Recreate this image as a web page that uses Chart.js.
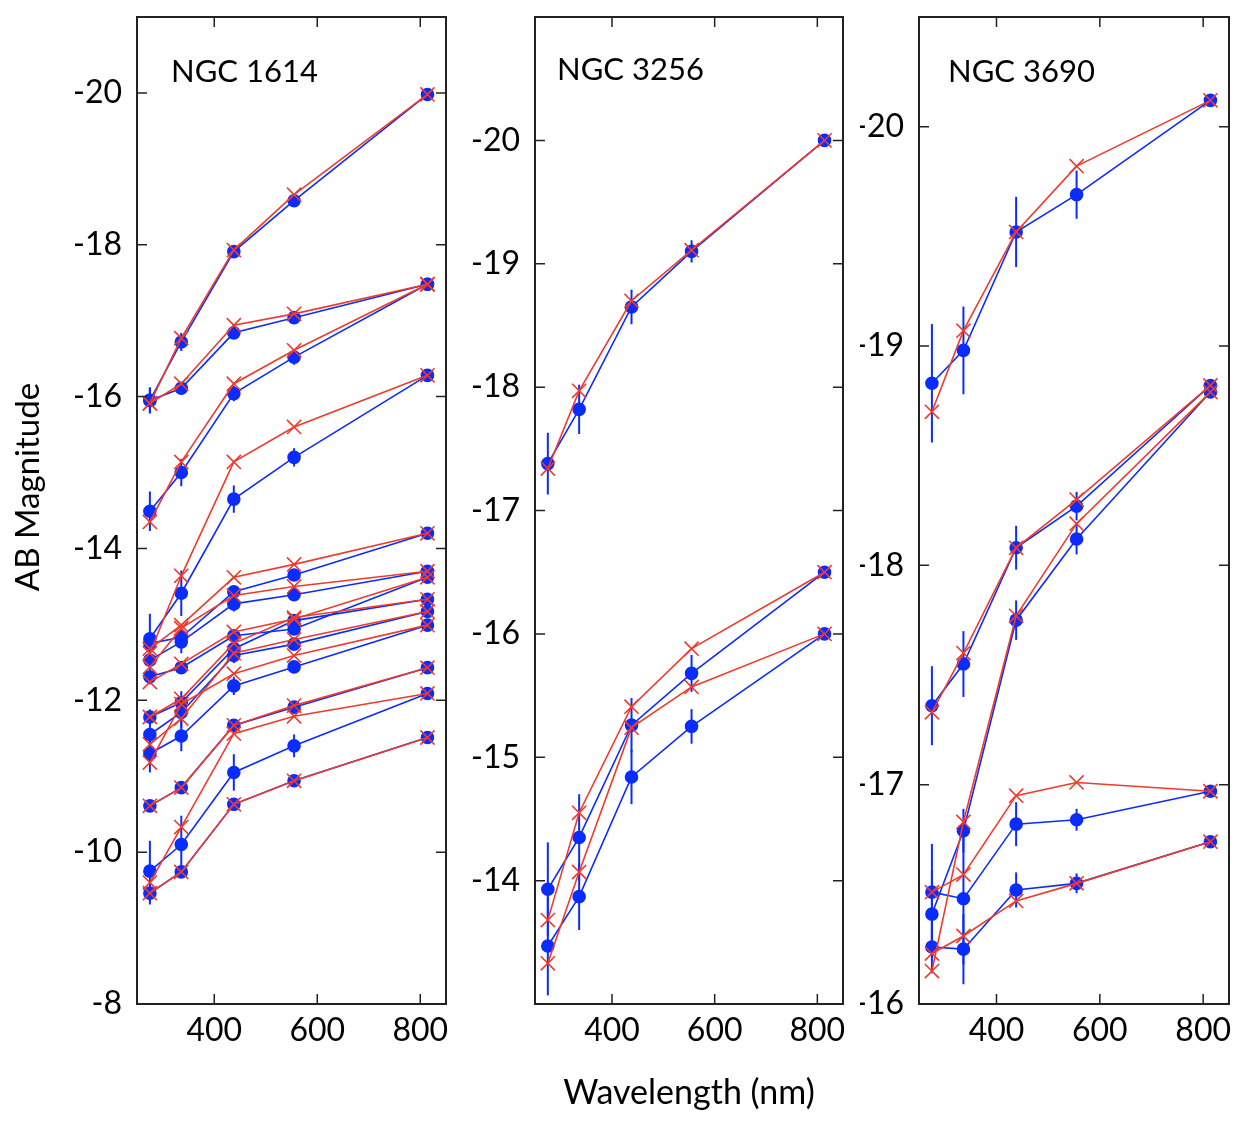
<!DOCTYPE html>
<html>
<head>
<meta charset="utf-8">
<script src="https://cdn.jsdelivr.net/npm/chart.js@4.4.0/dist/chart.umd.min.js"></script>
<style>
  body { margin: 0; background: #fff; }
  #wrap { position: relative; width: 1258px; height: 1126px; overflow: hidden; }
  #wrap canvas { position: absolute; top: 0; }
</style>
</head>
<body>
<div id="wrap">
  <canvas id="c1614" width="460" height="1126" style="left:0"></canvas>
  <canvas id="c3256" width="400" height="1126" style="left:460px"></canvas>
  <canvas id="c3690" width="398" height="1126" style="left:860px"></canvas>
</div>
<script>
// filter wavelengths (nm) and axis ticks
const wavelengths = [275, 336, 438, 555, 814];
const xTicks = [400, 600, 800];
const ticks1614 = [-20, -18, -16, -14, -12, -10, -8];
const ticks3256 = [-20, -19, -18, -17, -16, -15, -14];
const ticks3690 = [-20, -19, -18, -17, -16];

// NGC 1614 - observed (blue), errors, model (red)
const obs1614 = [
  [-15.95, -16.72, -17.91, -18.58, -19.98],
  [-15.95, -16.11, -16.84, -17.04, -17.48],
  [-14.49, -15.00, -16.04, -16.52, -17.48],
  [-12.81, -13.41, -14.65, -15.20, -16.28],
  [-12.75, -12.83, -13.43, -13.65, -14.20],
  [-12.53, -12.77, -13.27, -13.39, -13.70],
  [-12.31, -12.43, -12.85, -12.94, -13.62],
  [-11.78, -11.97, -12.68, -13.05, -13.33],
  [-11.55, -11.84, -12.59, -12.74, -13.17],
  [-11.30, -11.53, -12.19, -12.44, -12.99],
  [-10.61, -10.85, -11.67, -11.91, -12.43],
  [-9.75, -10.10, -11.05, -11.40, -12.09],
  [-9.46, -9.74, -10.63, -10.94, -11.51]
];
const err1614 = [
  [0.17, 0.12, 0.06, 0.04, 0.02],
  [0.17, 0.08, 0.06, 0.04, 0.02],
  [0.26, 0.18, 0.10, 0.10, 0.02],
  [0.33, 0.30, 0.18, 0.12, 0.02],
  [0.15, 0.10, 0.08, 0.05, 0.02],
  [0.12, 0.15, 0.10, 0.06, 0.02],
  [0.10, 0.08, 0.08, 0.08, 0.02],
  [0.10, 0.15, 0.10, 0.08, 0.02],
  [0.15, 0.20, 0.10, 0.07, 0.02],
  [0.25, 0.20, 0.12, 0.08, 0.02],
  [0.05, 0.05, 0.04, 0.04, 0.02],
  [0.40, 0.38, 0.24, 0.15, 0.02],
  [0.15, 0.05, 0.05, 0.04, 0.02]
];
const mod1614 = [
  [-15.91, -16.77, -17.93, -18.66, -19.98],
  [-15.91, -16.17, -16.94, -17.09, -17.48],
  [-14.35, -15.14, -16.17, -16.61, -17.48],
  [-12.62, -13.64, -15.14, -15.60, -16.28],
  [-12.68, -12.99, -13.62, -13.79, -14.20],
  [-12.44, -12.95, -13.38, -13.50, -13.70],
  [-12.24, -12.48, -12.90, -13.07, -13.62],
  [-11.78, -12.02, -12.75, -13.09, -13.33],
  [-11.42, -11.76, -12.62, -12.80, -13.17],
  [-11.18, -11.95, -12.35, -12.59, -12.99],
  [-10.61, -10.85, -11.67, -11.93, -12.43],
  [-9.60, -10.33, -11.56, -11.79, -12.09],
  [-9.46, -9.74, -10.63, -10.94, -11.51]
];

// NGC 3256
const obs3256 = [
  [-17.38, -17.82, -18.65, -19.10, -20.00],
  [-13.93, -14.35, -15.26, -15.68, -16.50],
  [-13.47, -13.87, -14.84, -15.25, -16.00]
];
const err3256 = [
  [0.25, 0.20, 0.14, 0.09, 0.02],
  [0.38, 0.35, 0.22, 0.15, 0.02],
  [0.40, 0.27, 0.22, 0.14, 0.02]
];
const mod3256 = [
  [-17.34, -17.97, -18.70, -19.11, -20.00],
  [-13.68, -14.55, -15.41, -15.88, -16.50],
  [-13.33, -14.07, -15.24, -15.57, -16.00]
];

// NGC 3690
const obs3690 = [
  [-18.83, -18.98, -19.52, -19.69, -20.12],
  [-17.36, -17.55, -18.08, -18.27, -18.82],
  [-16.41, -16.79, -17.75, -18.12, -18.79],
  [-16.51, -16.48, -16.82, -16.84, -16.97],
  [-16.26, -16.25, -16.52, -16.55, -16.74]
];
const err3690 = [
  [0.27, 0.20, 0.16, 0.11, 0.02],
  [0.18, 0.15, 0.10, 0.065, 0.02],
  [0.20, 0.10, 0.09, 0.07, 0.02],
  [0.22, 0.30, 0.10, 0.05, 0.01],
  [0.12, 0.16, 0.08, 0.045, 0.01]
];
const mod3690 = [
  [-18.70, -19.07, -19.52, -19.82, -20.12],
  [-17.33, -17.60, -18.08, -18.30, -18.82],
  [-16.15, -16.83, -17.77, -18.19, -18.79],
  [-16.51, -16.59, -16.95, -17.01, -16.97],
  [-16.23, -16.31, -16.47, -16.55, -16.74]
];

const BLUE = '#0a2cff';
const RED = '#ee3b2c';
const FONT = 'Lato';

// error bars under the points, frame + inward mirrored ticks on top
const framePlugin = {
  id: 'frame',
  beforeDatasetsDraw(chart) {
    const ctx = chart.ctx, ys = chart.scales.y;
    ctx.save();
    ctx.strokeStyle = BLUE;
    ctx.lineWidth = 2;
    chart.data.datasets.forEach((ds, i) => {
      if (!ds.errors) return;
      const meta = chart.getDatasetMeta(i);
      meta.data.forEach((pt, j) => {
        const v = ds.data[j].y, e = ds.errors[j];
        ctx.beginPath();
        ctx.moveTo(pt.x, ys.getPixelForValue(v - e));
        ctx.lineTo(pt.x, ys.getPixelForValue(v + e));
        ctx.stroke();
      });
    });
    ctx.restore();
  },
  afterDraw(chart, args, opts) {
    const ctx = chart.ctx, a = chart.chartArea;
    const xs = chart.scales.x, ys = chart.scales.y;
    ctx.save();
    ctx.strokeStyle = '#222';
    ctx.lineWidth = 1.5;
    const tl = 10;
    xs.ticks.forEach(t => {
      const px = xs.getPixelForValue(t.value);
      ctx.beginPath();
      ctx.moveTo(px, a.bottom); ctx.lineTo(px, a.bottom - tl);
      ctx.moveTo(px, a.top); ctx.lineTo(px, a.top + tl);
      ctx.stroke();
    });
    ys.ticks.forEach(t => {
      const py = ys.getPixelForValue(t.value);
      ctx.beginPath();
      ctx.moveTo(a.left, py); ctx.lineTo(a.left + tl, py);
      ctx.moveTo(a.right, py); ctx.lineTo(a.right - tl, py);
      ctx.stroke();
    });
    ctx.lineWidth = 2;
    ctx.strokeRect(a.left, a.top, a.right - a.left, a.bottom - a.top);
    // galaxy name
    ctx.fillStyle = '#000';
    ctx.font = '31px ' + FONT;
    ctx.textBaseline = 'middle';
    ctx.textAlign = 'left';
    ctx.fillText(opts.name, a.left + opts.nameDx, a.top + opts.nameDy);
    // y axis title only on the first panel
    if (opts.yTitle) {
      ctx.translate(28, 487);
      ctx.rotate(-Math.PI / 2);
      ctx.textAlign = 'center';
      ctx.font = '33px ' + FONT;
      ctx.fillText('AB Magnitude', 0, 0);
    }
    ctx.restore();
  }
};

function makePanel(id, name, obs, err, mod, yMin, yMax, yTicks, p) {
  const datasets = [];
  obs.forEach((row, i) => {
    datasets.push({
      data: wavelengths.map((w, j) => ({ x: w, y: row[j] })),
      errors: err[i],
      borderColor: BLUE,
      backgroundColor: BLUE,
      pointBackgroundColor: BLUE,
      pointBorderColor: BLUE,
      pointStyle: 'circle',
      pointRadius: 6,
      borderWidth: 1.6,
      order: 2
    });
  });
  mod.forEach(row => {
    datasets.push({
      data: wavelengths.map((w, j) => ({ x: w, y: row[j] })),
      borderColor: RED,
      backgroundColor: RED,
      pointBorderColor: RED,
      pointStyle: 'crossRot',
      pointRadius: 10,
      pointBorderWidth: 1.6,
      borderWidth: 1.6,
      order: 1
    });
  });

  return new Chart(document.getElementById(id), {
    type: 'line',
    data: { datasets: datasets },
    options: {
      responsive: false,
      animation: false,
      layout: { autoPadding: false, padding: { left: 0, right: p.padRight, top: 17, bottom: 0 } },
      plugins: {
        legend: { display: false },
        tooltip: { enabled: false },
        frame: { name: name, nameDx: p.nameDx, nameDy: p.nameDy, yTitle: p.yTitle }
      },
      scales: {
        x: {
          type: 'linear',
          min: 250, max: 850,
          afterBuildTicks: s => { s.ticks = xTicks.map(v => ({ value: v })); },
          afterFit: s => { s.height = 122; s.paddingLeft = 0; s.paddingRight = 0; },
          ticks: { font: { family: FONT, size: 32 }, color: '#000', padding: 7, maxRotation: 0,
                   callback: v => String(v) },
          grid: { display: false, drawTicks: false },
          border: { display: false },
          title: { display: p.xTitle, text: 'Wavelength (nm)', color: '#000',
                   font: { family: FONT, size: 34 }, padding: { top: 0, bottom: 13 } }
        },
        y: {
          type: 'linear',
          reverse: true,
          min: yMin, max: yMax,
          afterBuildTicks: s => { s.ticks = yTicks.map(v => ({ value: v })); },
          afterFit: s => { s.width = p.yWidth; s.paddingTop = 0; s.paddingBottom = 0; },
          ticks: { font: { family: FONT, size: 32 }, color: '#000', padding: 15,
                   callback: v => String(v) },
          grid: { display: false, drawTicks: false },
          border: { display: false }
        }
      }
    },
    plugins: [framePlugin]
  });
}

makePanel('c1614', 'NGC 1614', obs1614, err1614, mod1614, -21, -8, ticks1614,
  { padRight: 14, yWidth: 137, yTitle: true, xTitle: false, nameDx: 34, nameDy: 55 });
makePanel('c3256', 'NGC 3256', obs3256, err3256, mod3256, -21, -13, ticks3256,
  { padRight: 17, yWidth: 75, yTitle: false, xTitle: true, nameDx: 22, nameDy: 53 });
makePanel('c3690', 'NGC 3690', obs3690, err3690, mod3690, -20.5, -16, ticks3690,
  { padRight: 29, yWidth: 59, yTitle: false, xTitle: false, nameDx: 29, nameDy: 55 });
</script>
</body>
</html>
